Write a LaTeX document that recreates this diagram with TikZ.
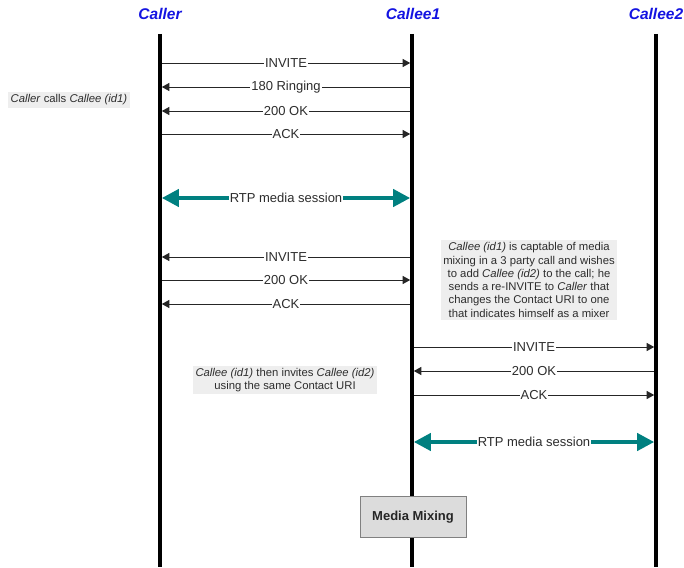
\documentclass[tikz,border=0pt]{standalone}
\usepackage{fontspec}
\setmainfont{Liberation Sans}
\usetikzlibrary{arrows.meta}

\definecolor{rtpteal}{RGB}{0,128,128}
\definecolor{headblue}{RGB}{20,20,225}
\definecolor{notegray}{RGB}{238,238,238}
\definecolor{boxgray}{RGB}{220,220,220}
\definecolor{txtgray}{RGB}{45,45,45}

\begin{document}
\begin{tikzpicture}[x=1pt,y=-1pt,
  head/.style={font=\fontsize{15.5}{18}\selectfont\bfseries\itshape,text=headblue,inner sep=0pt},
  life/.style={line width=3.5pt,draw=black},
  msg/.style={-{Triangle[length=7.5pt,width=8pt]},line width=0.9pt,draw=black!85,shorten >=1.8pt,shorten <=1.8pt},
  lbl/.style={fill=white,inner sep=1pt,text=txtgray,font=\fontsize{13}{15}\selectfont},
  rtp/.style={{Triangle[length=17pt,width=17pt]}-{Triangle[length=17pt,width=17pt]},line width=4pt,draw=rtpteal,shorten >=1.8pt,shorten <=1.8pt},
  note/.style={fill=notegray,text=txtgray,align=center,inner sep=2.5pt,font=\fontsize{11.3}{13.3}\selectfont},
  mixbox/.style={draw=black!50,fill=boxgray,line width=0.8pt,minimum width=106pt,minimum height=41pt,font=\fontsize{13}{15}\selectfont\bfseries,text=black!85}
]
\useasboundingbox (0,0) rectangle (684,567);

\node[head] (callerhd) at (160,14) {Caller};
\node[head] (calleeAhd) at (413,14) {Callee1};
\node[head] (calleeBhd) at (656,14) {Callee2};

\coordinate (callertop) at (160,34);
\coordinate (callerbot) at (160,567);
\coordinate (calleeAtop) at (412,34);
\coordinate (calleeAbot) at (412,567);
\coordinate (calleeBtop) at (656,34);
\coordinate (calleeBbot) at (656,567);

\draw[life] (callertop) -- (callerbot);
\draw[life] (calleeAtop) -- (calleeAbot);
\draw[life] (calleeBtop) -- (calleeBbot);

\draw[msg] (callertop |- 0,63) -- node[lbl] {INVITE} (calleeAtop |- 0,63);
\draw[msg] (calleeAtop |- 0,87) -- node[lbl] {180 Ringing} (callertop |- 0,87);
\draw[msg] (calleeAtop |- 0,111) -- node[lbl] {200 OK} (callertop |- 0,111);
\draw[msg] (callertop |- 0,134) -- node[lbl] {ACK} (calleeAtop |- 0,134);

\draw[rtp] (callertop |- 0,198) -- node[lbl] {RTP media session} (calleeAtop |- 0,198);

\draw[msg] (calleeAtop |- 0,257) -- node[lbl] {INVITE} (callertop |- 0,257);
\draw[msg] (callertop |- 0,280) -- node[lbl] {200 OK} (calleeAtop |- 0,280);
\draw[msg] (calleeAtop |- 0,304) -- node[lbl] {ACK} (callertop |- 0,304);

\draw[msg] (calleeAtop |- 0,347) -- node[lbl] {INVITE} (calleeBtop |- 0,347);
\draw[msg] (calleeBtop |- 0,371) -- node[lbl] {200 OK} (calleeAtop |- 0,371);
\draw[msg] (calleeAtop |- 0,395) -- node[lbl] {ACK} (calleeBtop |- 0,395);

\draw[rtp] (calleeAtop |- 0,442) -- node[lbl] {RTP media session} (calleeBtop |- 0,442);

\node[note] (callnote) at (69,100) {\textit{Caller} calls \textit{Callee (id1)}};
\node[note] (mixnote) at (529,280) {\textit{Callee (id1)} is captable of media\\mixing in a 3 party call and wishes\\to add \textit{Callee (id2)} to the call; he\\sends a re-INVITE to \textit{Caller} that\\changes the Contact URI to one\\that indicates himself as a mixer};
\node[note] (invnote) at (285,380) {\textit{Callee (id1)} then invites \textit{Callee (id2)}\\using the same Contact URI};

\node[mixbox] (mixing) at (413,517) {Media Mixing};
\end{tikzpicture}
\end{document}
